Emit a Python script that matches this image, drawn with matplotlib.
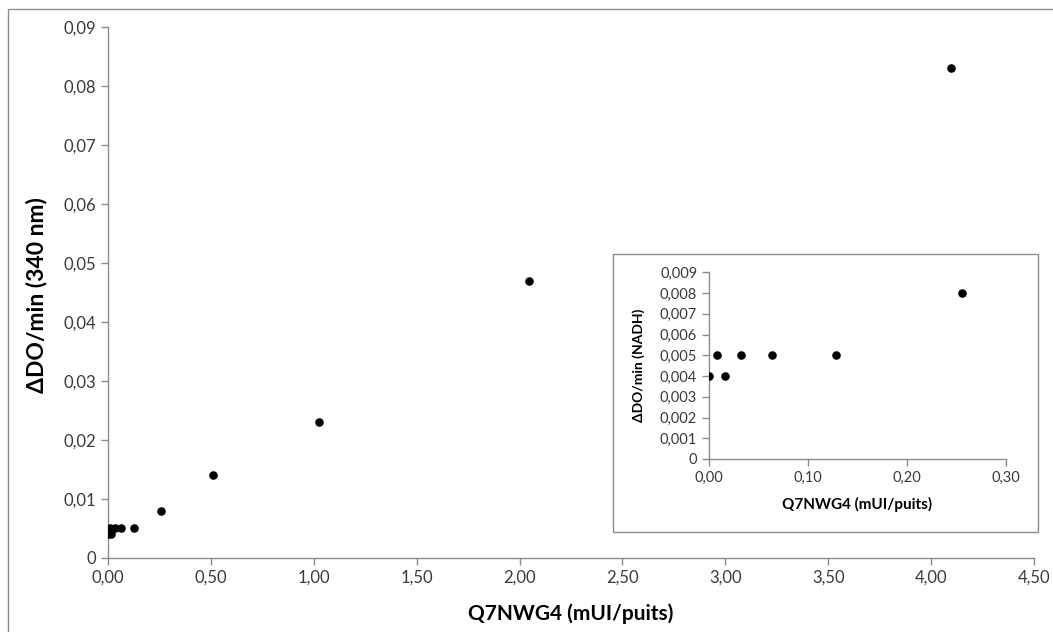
import matplotlib
matplotlib.use("Agg")
import matplotlib.pyplot as plt
from matplotlib.patches import Rectangle
from matplotlib.ticker import FuncFormatter, MultipleLocator

plt.rcParams['font.family'] = ['Lato', 'DejaVu Sans']

# Data
x_main = [0.0, 0.008, 0.016, 0.032, 0.064, 0.128, 0.256, 0.512, 1.024, 2.048, 4.096]
y_main = [0.004, 0.005, 0.004, 0.005, 0.005, 0.005, 0.008, 0.014, 0.023, 0.047, 0.083]
x_inset = [0.0, 0.008, 0.016, 0.032, 0.064, 0.128, 0.256]
y_inset = [0.004, 0.005, 0.004, 0.005, 0.005, 0.005, 0.008]

main_xlabel = "Q7NWG4 (mUI/puits)"
main_ylabel = "ΔDO/min (340 nm)"
inset_xlabel = "Q7NWG4 (mUI/puits)"
inset_ylabel = "ΔDO/min (NADH)"

W, H = 1053, 632
fig = plt.figure(figsize=(W / 100, H / 100), dpi=100)

axis_col = "#8c8c8c"
text_col = "#3a3a3a"

def fmt(decimals):
    def f(v, pos):
        if abs(v) < 1e-12:
            return "0"
        return f"{v:.{decimals}f}".replace(".", ",")
    return f

def fmtx(v, pos):
    return f"{v:.2f}".replace(".", ",")

def style(ax, fs):
    for s in ("top", "right"):
        ax.spines[s].set_visible(False)
    for s in ("left", "bottom"):
        ax.spines[s].set_color(axis_col)
        ax.spines[s].set_linewidth(1.0)
    ax.tick_params(axis="both", colors=axis_col, labelcolor=text_col,
                   labelsize=fs, length=5, width=1.0, direction="out")

# Outer frame (left/top visible)
fig.patches.append(Rectangle((8 / W, -0.1), 2.0, 1 - 9 / H + 0.1,
                             transform=fig.transFigure, fill=False,
                             edgecolor="#8c8c8c", linewidth=1.0))

# Main axes
ax = fig.add_axes([108 / W, 1 - 557.7 / H, 926 / W, 530.7 / H])
ax.scatter(x_main, y_main, s=38, color="black", zorder=3, linewidths=0)
ax.set_xlim(0, 4.5)
ax.set_ylim(0, 0.09)
ax.xaxis.set_major_locator(MultipleLocator(0.5))
ax.yaxis.set_major_locator(MultipleLocator(0.01))
ax.xaxis.set_major_formatter(FuncFormatter(fmtx))
ax.yaxis.set_major_formatter(FuncFormatter(fmt(2)))
style(ax, 12)
ax.set_xlabel(main_xlabel, fontsize=15, fontweight="bold", color="black")
ax.set_ylabel(main_ylabel, fontsize=16.5, fontweight="bold", color="black")
ax.xaxis.set_label_coords(0.5, -0.087)
ax.yaxis.set_label_coords(-0.066, 0.495)

# Inset frame
fig.patches.append(Rectangle((613 / W, 1 - 532 / H), 424.7 / W, 278 / H,
                             transform=fig.transFigure, facecolor="white",
                             edgecolor="#8c8c8c", linewidth=1.0, zorder=5))

# Inset axes
ai = fig.add_axes([709 / W, 1 - 459 / H, 296.7 / W, 186.7 / H], zorder=6)
ai.patch.set_alpha(0)
ai.scatter(x_inset, y_inset, s=38, color="black", zorder=3, linewidths=0)
ai.set_xlim(0, 0.30)
ai.set_ylim(0, 0.009)
ai.xaxis.set_major_locator(MultipleLocator(0.1))
ai.yaxis.set_major_locator(MultipleLocator(0.001))
ai.xaxis.set_major_formatter(FuncFormatter(fmtx))
ai.yaxis.set_major_formatter(FuncFormatter(fmt(3)))
style(ai, 10.5)
ai.set_xlabel(inset_xlabel, fontsize=11, fontweight="bold", color="black")
ai.set_ylabel(inset_ylabel, fontsize=10, fontweight="bold", color="black")
ai.xaxis.set_label_coords(0.5, -0.2035)
ai.yaxis.set_label_coords(-0.216, 0.5)

fig.savefig("out.png", dpi=100)
